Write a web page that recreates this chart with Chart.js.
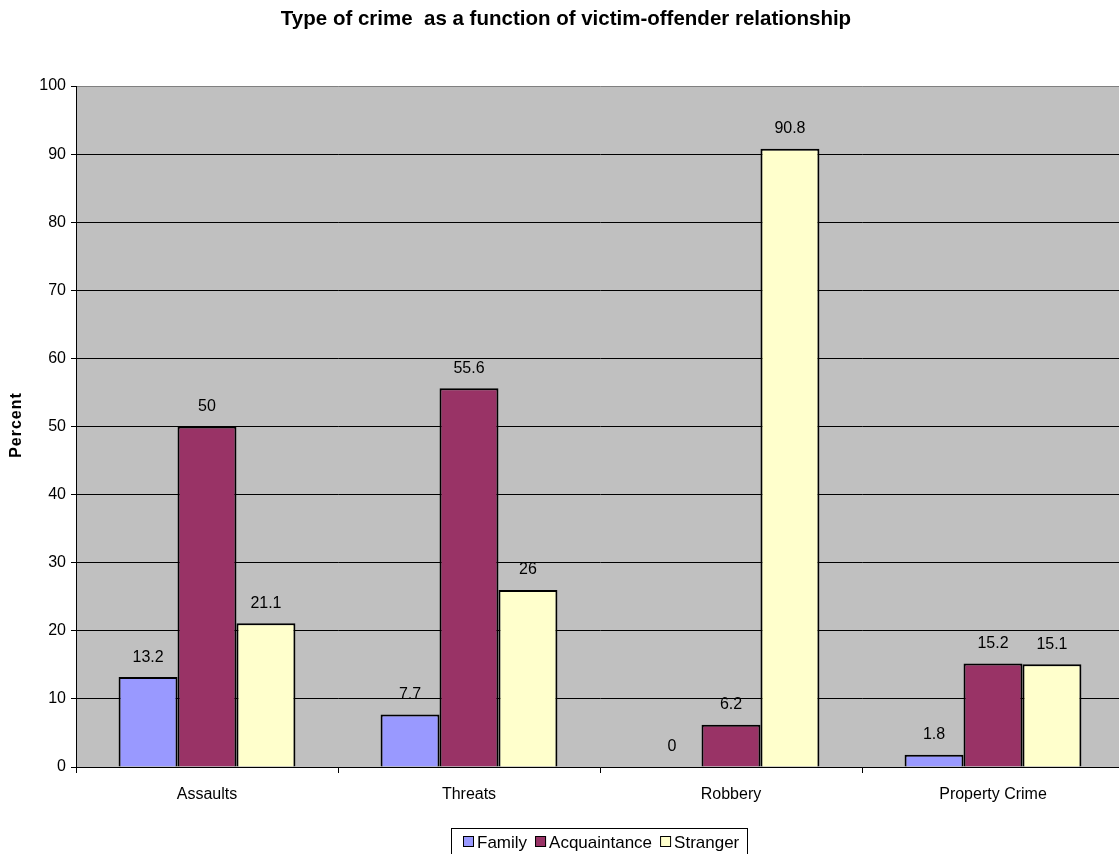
<!DOCTYPE html>
<html>
<head>
<meta charset="utf-8">
<script src="https://cdn.jsdelivr.net/npm/chart.js@4.4.1/dist/chart.umd.min.js"></script>
<style>
  html, body { margin: 0; padding: 0; background: #fff; overflow: hidden; }
  #wrap { width: 1119px; height: 854px; overflow: hidden; }
</style>
</head>
<body>
<div id="wrap"><canvas id="myChart" width="1124" height="854"></canvas></div>
<script>
const categories = ['Assaults', 'Threats', 'Robbery', 'Property Crime']
const family = [13.2, 7.7, 0, 1.8]
const acquaintance = [50, 55.6, 6.2, 15.2]
const stranger = [21.1, 26, 90.8, 15.1]
const seriesNames = ['Family', 'Acquaintance', 'Stranger']
const seriesColors = ['#9999FF', '#993366', '#FFFFCC']

const FONT = 'Liberation Sans, Arial, sans-serif'

// plot background, value labels, titles and boxed legend
const extras = {
  id: 'extras',
  beforeDraw(chart) {
    const { ctx, chartArea: a } = chart
    ctx.save()
    ctx.fillStyle = '#C0C0C0'
    ctx.fillRect(a.left, a.top, a.right - a.left, a.bottom - a.top)
    ctx.restore()
  },
  afterDatasetsDraw(chart) {
    const ctx = chart.ctx
    ctx.save()
    ctx.font = '16px ' + FONT
    ctx.fillStyle = '#000'
    ctx.textAlign = 'center'
    ctx.textBaseline = 'middle'
    chart.data.datasets.forEach((ds, i) => {
      chart.getDatasetMeta(i).data.forEach((bar, j) => {
        ctx.fillText(String(ds.data[j]), bar.x, bar.y - 20)
      })
    })
    ctx.restore()
  },
  afterDraw(chart) {
    const ctx = chart.ctx
    ctx.save()
    // title
    ctx.font = 'bold 20.5px ' + FONT
    ctx.fillStyle = '#000'
    ctx.textAlign = 'center'
    ctx.textBaseline = 'middle'
    ctx.fillText('Type of crime  as a function of victim-offender relationship', 566, 19)

    // y axis title
    ctx.save()
    ctx.translate(17, 425)
    ctx.rotate(-Math.PI / 2)
    ctx.font = 'bold 16px ' + FONT
    ctx.letterSpacing = '1px'
    ctx.fillText('Percent', 0, 0)
    ctx.restore()

    // legend
    ctx.font = '17px ' + FONT
    ctx.textAlign = 'left'
    const boxL = 451, boxT = 828, boxW = 296, boxH = 40
    ctx.fillStyle = '#fff'
    ctx.fillRect(boxL, boxT, boxW, boxH)
    ctx.strokeStyle = '#000'
    ctx.lineWidth = 1
    ctx.strokeRect(boxL + 0.5, boxT + 0.5, boxW, boxH)
    let x = 463
    const cy = 842
    seriesNames.forEach((name, i) => {
      ctx.fillStyle = seriesColors[i]
      ctx.fillRect(x, cy - 6, 11, 11)
      ctx.strokeRect(x + 0.5, cy - 5.5, 10, 10)
      ctx.fillStyle = '#000'
      ctx.fillText(name, x + 14, cy + 1)
      x += 14 + ctx.measureText(name).width + 8
    })
    ctx.restore()
  }
}

const data = {
  labels: categories,
  datasets: [family, acquaintance, stranger].map((vals, i) => ({
    label: seriesNames[i],
    data: vals,
    backgroundColor: seriesColors[i],
    borderColor: '#000',
    borderWidth: 2,
    borderSkipped: 'bottom',
    categoryPercentage: 0.675,
    barPercentage: 1
  }))
}

const config = {
  type: 'bar',
  data: data,
  options: {
    responsive: false,
    animation: false,
    layout: { padding: { top: 86, right: 0, bottom: 0, left: 0 } },
    plugins: {
      legend: { display: false },
      title: { display: false },
      tooltip: { enabled: false }
    },
    scales: {
      x: {
        afterFit: (s) => { s.height = 87 },
        grid: { display: true, drawOnChartArea: false, offset: true, color: '#000', tickLength: 6 },
        border: { color: '#000', width: 1 },
        ticks: { color: '#000', font: { family: FONT, size: 16 }, padding: 12 }
      },
      y: {
        min: 0,
        max: 100,
        afterFit: (s) => { s.width = 76 },
        grid: {
          color: (c) => c.tick && c.tick.value === 100 ? '#808080' : '#000',
          tickColor: '#000',
          tickLength: 5
        },
        border: { color: '#000', width: 1 },
        ticks: { stepSize: 10, color: '#000', font: { family: FONT, size: 16 }, padding: 5 }
      }
    }
  },
  plugins: [extras]
}

new Chart(document.getElementById('myChart'), config)
</script>
</body>
</html>
